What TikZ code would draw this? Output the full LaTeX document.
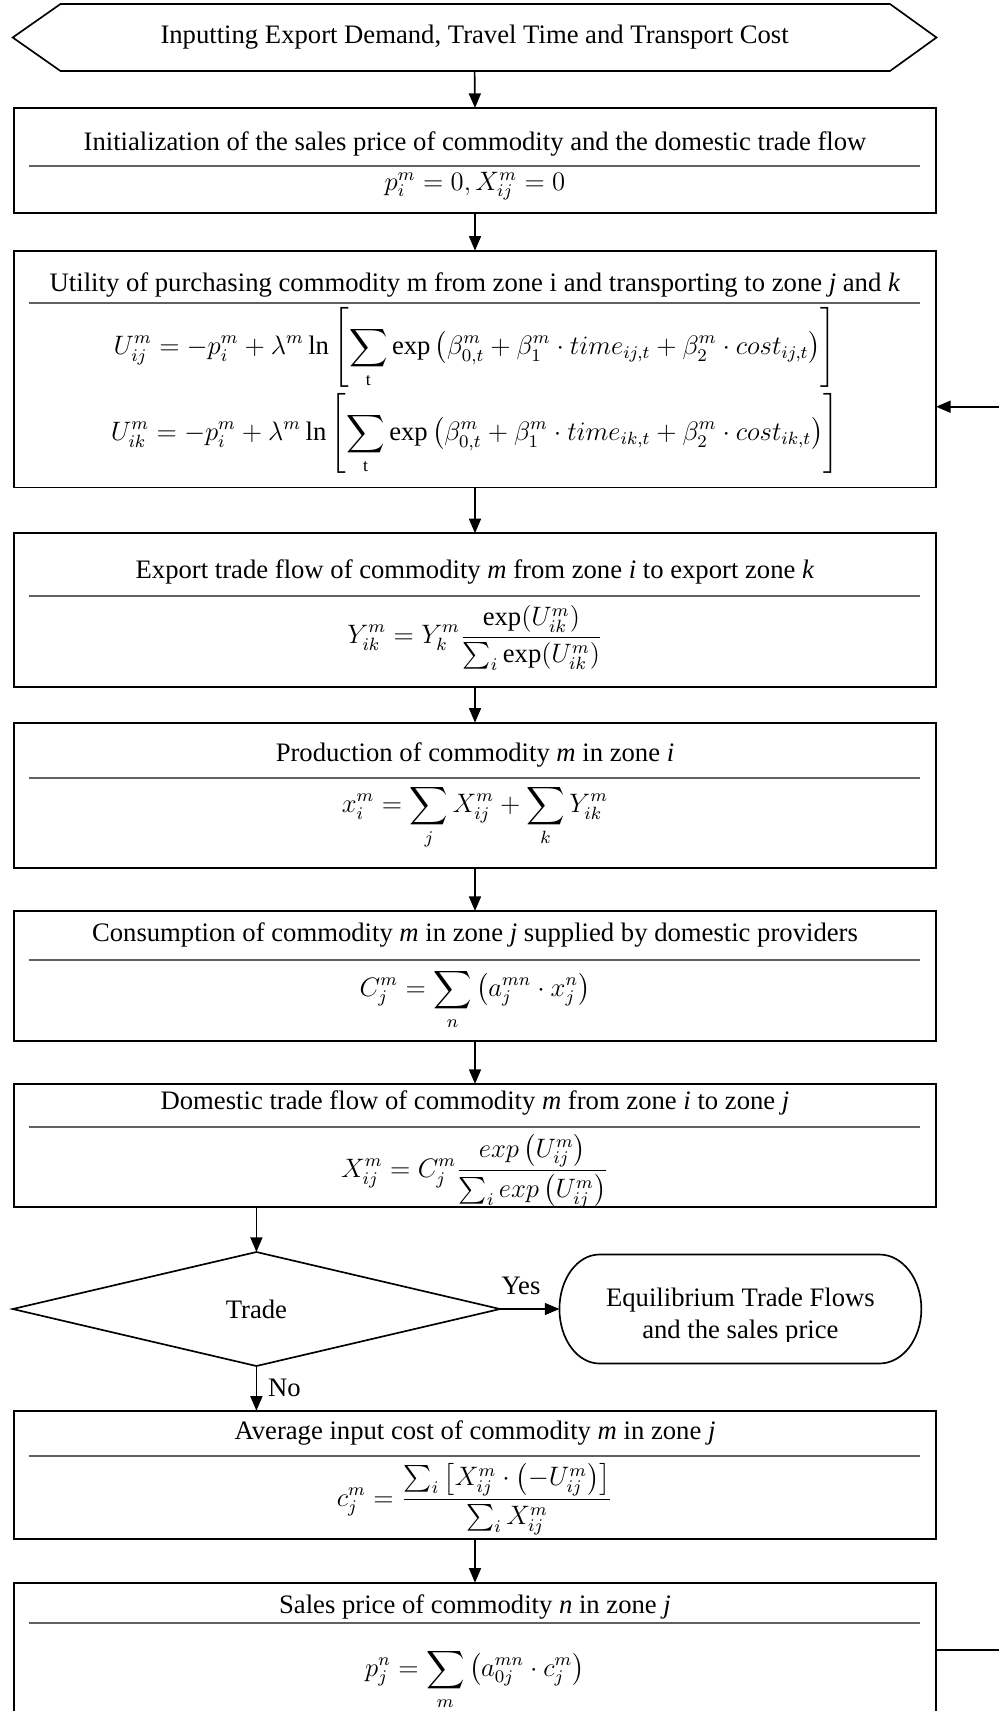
\documentclass[tikz,border=0pt]{standalone}
\usepackage{amsmath}
\usepackage{fontspec}
\setmainfont{Liberation Serif}
\usetikzlibrary{arrows.meta,shapes.geometric}
\newlength\pxu
\setlength\pxu{0.45pt}
\begin{document}
\begin{tikzpicture}[x=\pxu, y=-\pxu,
  box/.style={draw, line width=0.75pt, inner sep=0pt, outer sep=0pt, minimum width=922*\pxu},
  shapeline/.style={draw, line width=0.75pt},
  sepline/.style={draw=black!62, line width=0.75pt},
  txt/.style={font=\fontsize{12}{14.4}\selectfont, inner sep=0pt, outer sep=0pt},
  link/.style={line width=0.75pt},
  flow/.style={link, -{Triangle[length=6.6pt,width=5.4pt]}}]
\clip (0,0) rectangle (999,1711);
% --- input hexagon
\node[txt, minimum width=923.8*\pxu, minimum height=67*\pxu] (hex) at (474.6,37.5)
  {Inputting Export Demand, Travel Time and Transport Cost};
\draw[shapeline] (hex.west) -- ([xshift=47.8*\pxu]hex.north west) -- ([xshift=-46.5*\pxu]hex.north east)
  -- (hex.east) -- ([xshift=-46.5*\pxu]hex.south east) -- ([xshift=47.8*\pxu]hex.south west) -- cycle;
% --- box 1
\node[box, minimum height=105*\pxu] (b1) at (475,160.5) {};
\node[txt] (t1) at (475,144) {Initialization of the sales price of commodity and the domestic trade flow};
\draw[sepline] (28.7,165.7) -- (920,165.7);
\node[txt] (f1) at (475,186) {$p_i^m = 0,X_{ij}^m = 0$};
% --- box 2
\node[box, minimum height=236.8*\pxu] (b2) at (475,369.1) {};
\node[txt] (t2) at (475,285) {Utility of purchasing commodity m from zone i and transporting to zone \textit{j} and \textit{k}};
\draw[sepline] (28.7,303.3) -- (920,303.3);
\node[txt] (f2a) at (475,348) {$\displaystyle U_{ij}^m = -p_i^m + \lambda^m \ln\left[\sum_{\mathrm{t}} \exp\left(\beta_{0,t}^m + \beta_1^m\cdot time_{ij,t} + \beta_2^m\cdot cost_{ij,t}\right)\right]$};
\node[txt] (f2b) at (475,434) {$\displaystyle U_{ik}^m = -p_i^m + \lambda^m \ln\left[\sum_{\mathrm{t}} \exp\left(\beta_{0,t}^m + \beta_1^m\cdot time_{ik,t} + \beta_2^m\cdot cost_{ik,t}\right)\right]$};
% --- box 3
\node[box, minimum height=153.4*\pxu] (b3) at (475,610) {};
\node[txt] (t3) at (475,571.7) {Export trade flow of commodity \textit{m} from zone \textit{i} to export zone \textit{k}};
\draw[sepline] (28.7,596) -- (920,596);
\node[txt] (f3) at (475,638) {$\displaystyle Y_{ik}^m = Y_k^m\frac{\exp(U_{ik}^m)}{\sum_i \exp(U_{ik}^m)}$};
% --- box 4
\node[box, minimum height=145.6*\pxu] (b4) at (475,795.5) {};
\node[txt] (t4) at (475,755) {Production of commodity \textit{m} in zone \textit{i}};
\draw[sepline] (28.7,778) -- (920,778);
\node[txt] (f4) at (475,817) {$\displaystyle x_i^m = \sum_j X_{ij}^m + \sum_k Y_{ik}^m$};
% --- box 5
\node[box, minimum height=129.7*\pxu] (b5) at (475,975.9) {};
\node[txt] (t5) at (475,935) {Consumption of commodity \textit{m} in zone \textit{j} supplied by domestic providers};
\draw[sepline] (28.7,960) -- (920,960);
\node[txt] (f5) at (475,999) {$\displaystyle C_j^m = \sum_n \left(a_j^{mn}\cdot x_j^n\right)$};
% --- box 6
\node[box, minimum height=122.7*\pxu] (b6) at (475,1145.3) {};
\node[txt] (t6) at (475,1102.7) {Domestic trade flow of commodity \textit{m} from zone \textit{i} to zone \textit{j}};
\draw[sepline] (28.7,1126.7) -- (920,1126.7);
\begin{scope}
\clip (b6.north west) rectangle (b6.south east);
\node[txt] (f6) at (475,1171) {$\displaystyle X_{ij}^m = C_j^m\frac{exp\left(U_{ij}^m\right)}{\sum_i exp\left(U_{ij}^m\right)}$};
\end{scope}
% --- decision
\node[txt, draw, diamond, line width=0.75pt, minimum width=487.3*\pxu, minimum height=114*\pxu] (dia) at (256.4,1309) {Trade};
% --- terminal
\node[inner sep=0pt, outer sep=0pt, minimum width=361.9*\pxu, minimum height=109*\pxu] (term) at (740.4,1309) {};
\draw[shapeline] ([xshift=40*\pxu]term.north west) -- ([xshift=-42*\pxu]term.north east)
  arc[start angle=90, end angle=-90, x radius=42*\pxu, y radius=54.5*\pxu]
  -- ([xshift=40*\pxu]term.south west)
  arc[start angle=270, end angle=90, x radius=40*\pxu, y radius=54.5*\pxu] -- cycle;
\begin{scope}
\clip (600,1270) rectangle (880,1341);
\node[txt, align=center] (termtxt) at (740.4,1316) {Equilibrium Trade Flows\\and the sales price};
\end{scope}
% --- box 7
\node[box, minimum height=128.3*\pxu] (b7) at (475,1474.9) {};
\node[txt] (t7) at (475,1433.3) {Average input cost of commodity \textit{m} in zone \textit{j}};
\draw[sepline] (28.7,1456) -- (920,1456);
\node[txt] (f7) at (475,1499) {$\displaystyle c_j^m = \frac{\sum_i\left[X_{ij}^m\cdot\left(-U_{ij}^m\right)\right]}{\sum_i X_{ij}^m}$};
% --- box 8
\node[box, minimum height=147.3*\pxu] (b8) at (475,1656.4) {};
\node[txt] (t8) at (475,1606.7) {Sales price of commodity \textit{n} in zone \textit{j}};
\draw[sepline] (28.7,1622.7) -- (920,1622.7);
\node[txt] (f8) at (475,1679) {$\displaystyle p_j^n = \sum_m \left(a_{0j}^{mn}\cdot c_j^m\right)$};
% --- connectors
\draw[flow] (hex.south) -- (b1.north);
\draw[flow] (b1.south) -- (b2.north);
\draw[flow] (b2.south) -- (b3.north);
\draw[flow] (b3.south) -- (b4.north);
\draw[flow] (b4.south) -- (b5.north);
\draw[flow] (b5.south) -- (b6.north);
\draw[flow] (dia.north |- b6.south) -- (dia.north);
\draw[flow] (dia.east) -- (term.west);
\node[txt] (yes) at (521,1286) {Yes};
\draw[flow] (dia.south) -- (dia.south |- b7.north);
\node[txt, anchor=west] (no) at (268,1388.3) {No};
\draw[flow] (b7.south) -- (b8.north);
\coordinate (fbtop) at (999,406.7);
\coordinate (fbbot) at (999,1650);
\draw[link] (b8.east |- fbbot) -- (fbbot);
\draw[flow] (fbtop) -- (b2.east |- fbtop);
\end{tikzpicture}
\end{document}
